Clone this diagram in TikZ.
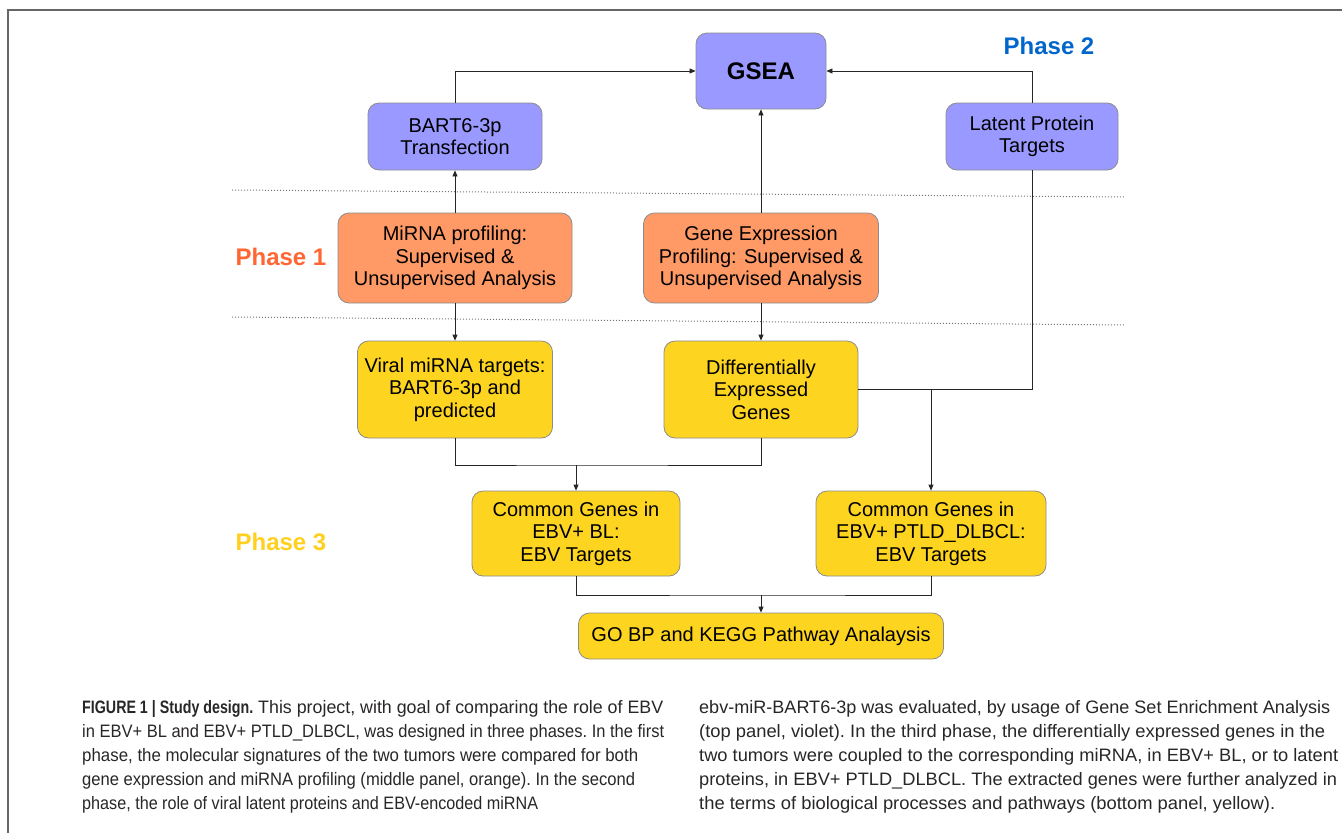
\documentclass[tikz,border=0pt]{standalone}
\usepackage{fontspec}
\setmainfont{Liberation Sans}
\newfontfamily\capf{Liberation Sans}
\newfontfamily\capbf[FakeStretch=0.8]{Liberation Sans Bold}
\usetikzlibrary{arrows.meta}
\definecolor{vio}{RGB}{153,153,255}
\definecolor{ora}{RGB}{255,153,102}
\definecolor{yel}{RGB}{253,212,32}
\definecolor{bord}{RGB}{140,140,140}
\definecolor{ph1}{RGB}{255,102,51}
\definecolor{ph2}{RGB}{0,102,204}
\definecolor{ph3}{RGB}{255,208,30}
\definecolor{captxt}{RGB}{40,38,38}
\newcommand{\fitln}[2]{\resizebox{#1pt}{\height}{#2}}
\begin{document}
\begin{tikzpicture}[x=1pt,y=-1pt,
  box/.style={draw=bord,line width=0.8pt,rounded corners=11pt,align=center,inner sep=0pt,
    font=\fontsize{20}{22.5}\selectfont},
  vbox/.style={box,fill=vio},
  obox/.style={box,fill=ora},
  ybox/.style={box,fill=yel},
  arr/.style={draw=black!85,line width=0.8pt,-{Triangle[length=6pt,width=5pt]}},
  lin/.style={draw=black!85,line width=0.8pt},
  dots/.style={draw=black!55,line width=1pt,dotted},
  phase/.style={font=\fontsize{24}{28}\selectfont\bfseries},
  capline/.style={anchor=base west,inner sep=0pt,text=captxt,font=\capf\fontsize{18}{24}\selectfont\frenchspacing}]
\useasboundingbox (0,0) rectangle (1342,833);
% frame
\draw[draw=black!60,line width=2pt] (8,833) -- (8,10) -- (1342,10);
% dotted separators
\draw[dots] (232,190) -- (1125,197);
\draw[dots] (232,317) -- (1125,325);
% phase labels
\node[phase,text=ph2] (p2) at (1049,46) {Phase 2};
\node[phase,text=ph1] (p1) at (281,257) {Phase 1};
\node[phase,text=ph3] (p3) at (281,542) {Phase 3};
% boxes
\node[vbox,minimum width=130pt,minimum height=76pt,font=\fontsize{24}{28}\selectfont\bfseries] (gsea) at (761,71) {GSEA};
\node[vbox,minimum width=174pt,minimum height=67pt] (bart) at (455,136.5) {BART6-3p\\Transfection};
\node[vbox,minimum width=172pt,minimum height=67pt] (latent) at (1032,136.5) {Latent Protein\\Targets};
\node[obox,minimum width=234pt,minimum height=90pt] (mirna) at (455,258) {MiRNA profiling:\\Supervised \&\\Unsupervised Analysis};
\node[obox,minimum width=235pt,minimum height=90pt] (gene) at (761,258) {Gene Expression\\Profiling: Supervised \&\\Unsupervised Analysis};
\node[ybox,minimum width=195pt,minimum height=97pt] (viral) at (455,389.5) {Viral miRNA targets:\\BART6-3p and\\predicted};
\node[ybox,minimum width=194pt,minimum height=97pt] (deg) at (761,389.5) {Differentially\\Expressed\\Genes};
\node[ybox,minimum width=208pt,minimum height=85pt] (bl) at (576,533.5) {Common Genes in\\EBV+ BL:\\EBV Targets};
\node[ybox,minimum width=230pt,minimum height=85pt] (ptld) at (931,533.5) {Common Genes in\\EBV+ PTLD\_DLBCL:\\EBV Targets};
\node[ybox,minimum width=365pt,minimum height=46pt] (go) at (761,636) {GO BP and KEGG Pathway Analaysis};
% connectors
\draw[arr] (bart.north) |- (gsea.west);
\draw[arr] (latent.north) |- (gsea.east);
\draw[arr] (mirna.north) -- (bart.south);
\draw[arr] (gene.north) -- (gsea.south);
\draw[arr] (mirna.south) -- (viral.north);
\draw[arr] (gene.south) -- (deg.north);
\coordinate (j1) at (ptld.north |- deg.east);
\draw[lin] (latent.south) |- (deg.east);
\draw[arr] (j1) -- (ptld.north);
\coordinate (j2) at (576,465);
\draw[lin] (viral.south) |- (j2) -| (deg.south);
\draw[arr] (j2) -- (bl.north);
\coordinate (j3) at (761,595);
\draw[lin] (bl.south) |- (j3) -| (ptld.south);
\draw[arr] (j3) -- (go.north);
% caption
\node[capline] (c1) at (82,713) {\fitln{581}{{\capbf FIGURE 1 | Study design.} This project, with goal of comparing the role of EBV}};
\node[capline] (c2) at (82,737) {\fitln{582}{in EBV+ BL and EBV+ PTLD\_DLBCL, was designed in three phases. In the first}};
\node[capline] (c3) at (82,761) {\fitln{556}{phase, the molecular signatures of the two tumors were compared for both}};
\node[capline] (c4) at (82,785) {\fitln{553}{gene expression and miRNA profiling (middle panel, orange). In the second}};
\node[capline] (c5) at (82,809) {\fitln{456}{phase, the role of viral latent proteins and EBV-encoded miRNA}};
\node[capline] (c6) at (699,713) {\fitln{631}{ebv-miR-BART6-3p was evaluated, by usage of Gene Set Enrichment Analysis}};
\node[capline] (c7) at (699,737) {\fitln{626}{(top panel, violet). In the third phase, the differentially expressed genes in the}};
\node[capline] (c8) at (699,761) {\fitln{639}{two tumors were coupled to the corresponding miRNA, in EBV+ BL, or to latent}};
\node[capline] (c9) at (699,785) {\fitln{638}{proteins, in EBV+ PTLD\_DLBCL. The extracted genes were further analyzed in}};
\node[capline] (c10) at (699,809) {\fitln{576}{the terms of biological processes and pathways (bottom panel, yellow).}};
\end{tikzpicture}
\end{document}
